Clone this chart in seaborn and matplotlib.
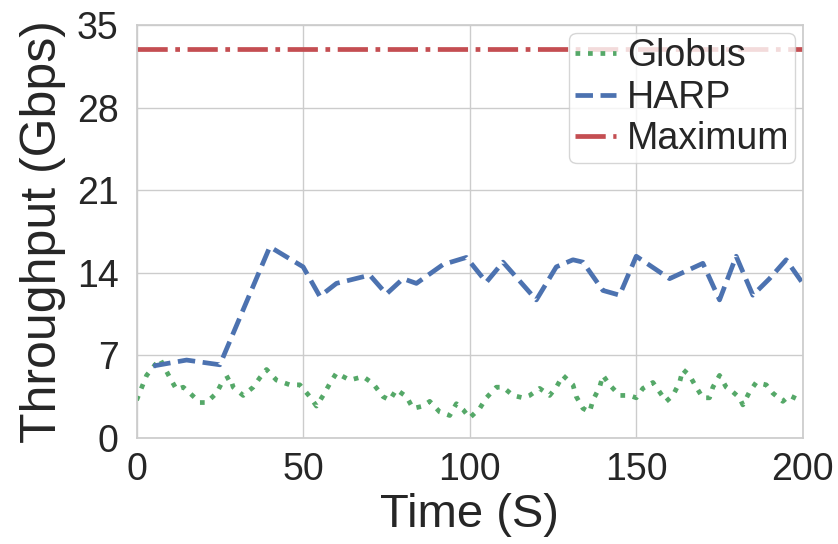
import matplotlib
matplotlib.use("Agg")
import matplotlib.pyplot as plt
import seaborn as sns
import pandas as pd

globus_t = [0, 3, 7, 10, 12, 14, 16, 19, 21, 24, 26, 28, 29, 32, 35, 37, 39, 42, 46, 49,
            52, 54, 56, 58, 60, 64, 68, 71, 74, 76, 78, 81, 83, 86, 88, 91, 94, 96, 98, 100,
            103, 105, 108, 110, 113, 116, 118, 121, 124, 126, 128, 131, 132, 134, 136, 137, 139, 140, 142, 145,
            148, 150, 152, 155, 157, 159, 161, 163, 164, 166, 168, 170, 172, 173, 175, 177, 179, 181, 182, 184,
            186, 189, 191, 194, 196, 199, 200]
globus_v = [3.2, 5.3, 6.7, 5.1, 4.1, 4.3, 3.8, 3.0, 3.0, 3.8, 4.9, 5.2, 4.3, 3.6, 4.3, 5.1, 5.8, 4.9, 4.5, 4.5,
            3.5, 2.7, 3.6, 4.6, 5.5, 4.9, 5.2, 4.6, 3.5, 3.2, 4.1, 3.5, 2.5, 2.7, 3.1, 2.2, 1.9, 2.9, 2.4, 1.7,
            2.5, 3.4, 4.3, 4.3, 3.6, 3.4, 3.6, 4.2, 3.6, 4.3, 5.3, 4.5, 3.5, 2.5, 2.2, 3.2, 4.3, 5.3, 4.5, 3.6,
            3.6, 3.4, 4.2, 4.7, 3.9, 3.1, 3.6, 4.7, 5.8, 5.3, 4.3, 3.4, 3.4, 4.3, 5.3, 4.3, 3.9, 3.4, 2.8, 3.9,
            4.7, 4.5, 3.8, 3.1, 3.6, 3.2, 3.3]

harp_t = [5, 15, 25, 40, 50, 55, 60, 70, 75, 80, 84, 92, 99, 105, 110, 120, 126, 131, 134, 140,
          145, 150, 160, 170, 175, 180, 185, 190, 195, 200]
harp_v = [6.1, 6.6, 6.2, 16.2, 14.5, 12.0, 13.1, 13.8, 12.2, 13.5, 13.1, 14.7, 15.3, 13.2, 14.9, 11.7, 14.5, 15.1, 14.9, 12.5,
          12.1, 15.4, 13.5, 14.8, 11.7, 15.4, 12.1, 13.5, 15.1, 13.1]

max_t = [0, 200]
max_v = [33, 33]

x_ticks = [0, 50, 100, 150, 200]
y_ticks = [0, 7, 14, 21, 28, 35]

sns.set_theme(style="whitegrid")
plt.rcParams['font.family'] = ['Liberation Sans', 'DejaVu Sans']

fig = plt.figure(figsize=(8.38, 5.44), dpi=100)
ax = fig.add_axes([0.163, 0.195, 0.795, 0.759])

pal = sns.color_palette("deep")
sns.lineplot(x=globus_t, y=globus_v, ax=ax, color=pal[2], linestyle=":", linewidth=3.4, label="Globus")
sns.lineplot(x=harp_t, y=harp_v, ax=ax, color=pal[0], linestyle="--", linewidth=3.4, label="HARP")
sns.lineplot(x=max_t, y=max_v, ax=ax, color=pal[3], linestyle="-.", linewidth=3.4, label="Maximum")

ax.set_xlim(0, 200)
ax.set_ylim(0, 35)
ax.set_xticks(x_ticks)
ax.set_yticks(y_ticks)
ax.tick_params(axis='x', labelsize=27, pad=4)
ax.tick_params(axis='y', labelsize=27, pad=7)
ax.set_xlabel("Time (S)", fontsize=34, labelpad=4)
ax.set_ylabel("Throughput (Gbps)", fontsize=36, labelpad=8)

leg = ax.legend(loc="upper right", fontsize=27, handlelength=1.1, handletextpad=0.3,
                labelspacing=0.15, borderpad=0.15, borderaxespad=0.2, framealpha=0.8)

fig.savefig("out.png", dpi=100)
